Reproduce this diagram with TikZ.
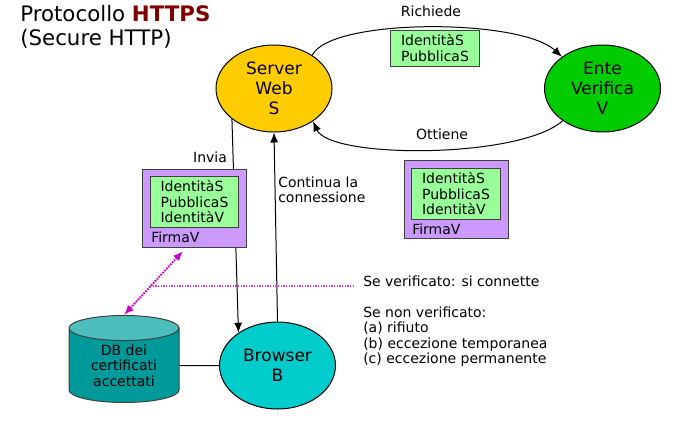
\documentclass[tikz,border=0pt]{standalone}
\usepackage{fontspec}
\setmainfont{DejaVu Sans}
\usetikzlibrary{shapes.geometric,arrows.meta}

\definecolor{serverfill}{RGB}{255,204,0}
\definecolor{entefill}{RGB}{0,204,0}
\definecolor{browserfill}{RGB}{0,204,204}
\definecolor{dbbody}{RGB}{0,153,153}
\definecolor{dbtop}{RGB}{77,190,190}
\definecolor{firmaviola}{RGB}{204,153,255}
\definecolor{chiaveverde}{RGB}{153,255,153}
\definecolor{boxline}{RGB}{64,64,64}
\definecolor{firmacheck}{RGB}{204,0,204}
\definecolor{verline}{RGB}{214,60,214}
\definecolor{titolorosso}{RGB}{128,0,0}

\begin{document}
\begin{tikzpicture}[x=0.75pt,y=0.75pt,yscale=-1,xscale=1,
  lbl/.style={inner sep=0.75pt,font=\fontsize{10.5}{11.5}\selectfont},
  party/.style={ellipse,draw,line width=0.75pt,inner sep=0pt,minimum width=87pt,minimum height=65.25pt,align=center,font=\fontsize{12.75}{15}\selectfont},
  certbox/.style={draw=boxline,fill=firmaviola,line width=0.75pt,minimum width=78pt,minimum height=58.5pt,inner sep=0pt},
  keybox/.style={lbl,draw=boxline,fill=chiaveverde,line width=0.75pt,minimum width=66.5pt,align=left},
  flow/.style={line width=0.75pt,-{Latex[length=7.5pt,width=6pt]}},
  check/.style={draw=firmacheck,line width=1.5pt,dash pattern=on 1.2pt off 0.9pt,{Latex[length=7.5pt,width=6pt]}-{Latex[length=7.5pt,width=6pt]}}
  ]
\useasboundingbox (0,0) rectangle (689,422);

% Title
\node [anchor=west,inner sep=0.75pt,align=left,font=\fontsize{16}{18}\selectfont] (titolo) at (19,27) {Protocollo \textbf{\color{titolorosso}HTTPS}\\(Secure HTTP)};

% Parties
\node [party,fill=serverfill] (srv) at (274,88.5) {Server\\Web\\S};
\node [party,fill=entefill] (ent) at (602.5,88.5) {Ente\\Verifica\\V};
\node [party,fill=browserfill] (brw) at (277.5,365.5) {Browser\\B};
% DB
\node [cylinder,shape border rotate=90,aspect=0.38,draw=boxline,line width=0.75pt,cylinder uses custom fill,cylinder body fill=dbbody,cylinder end fill=dbtop,minimum width=82.5pt,minimum height=65.25pt,inner sep=0pt,align=center,font=\fontsize{10.5}{11.5}\selectfont] (db) at (124,365.5) {DB dei\\certificati\\accettati};

% Connectors
\draw [flow] (srv.41) .. controls (330,18) and (520,18) .. (ent.142);
\draw [flow] (ent.219) .. controls (520,159) and (330,159) .. (srv.320);
\draw [flow] (srv.216) -- (brw.140);
\draw [flow] (brw.north) -- (srv.south);
\draw [line width=0.75pt] (db.east) -- (brw.west);

% Verification
\coordinate (vstart) at (150,286);
\coordinate (sig) at (183,251);
\draw [verline,line width=0.9pt,dash pattern=on 1pt off 1pt] (vstart) -- (353,286);
\draw [check] (sig) -- (db.north);

% Certificates
\node [certbox] (lbox) at (194,208) {};
\node [keybox,minimum height=38.25pt] (lkey) at (194.5,201.5) {IdentitàS\\PubblicaS\\IdentitàV};
\node [lbl,anchor=west] (lfirma) at (150,237) {FirmaV};
\node [certbox] (rbox) at (456,199.5) {};
\node [keybox,minimum height=38.25pt] (rkey) at (456,193.5) {IdentitàS\\PubblicaS\\IdentitàV};
\node [lbl,anchor=west] (rfirma) at (411,229) {FirmaV};
\node [keybox,minimum height=27pt] (req) at (435,48) {IdentitàS\\PubblicaS};

% Text Node
\node [lbl] (richiede) at (431,11) {Richiede};
% Text Node
\node [lbl] (ottiene) at (442,134) {Ottiene};
% Text Node
\node [lbl] (invia) at (210,157) {Invia};
% Text Node
\node [lbl,anchor=west,align=left] (continua) at (277,189.5) {Continua la\\connessione};
% Text Node
\node [lbl,anchor=west] (ok) at (362,281) {Se verificato: si connette};
% Text Node
\node [lbl,anchor=west,align=left] (ko) at (362,336.5) {Se non verificato:\\(a) rifiuto\\(b) eccezione temporanea\\(c) eccezione permanente};

\end{tikzpicture}
\end{document}
